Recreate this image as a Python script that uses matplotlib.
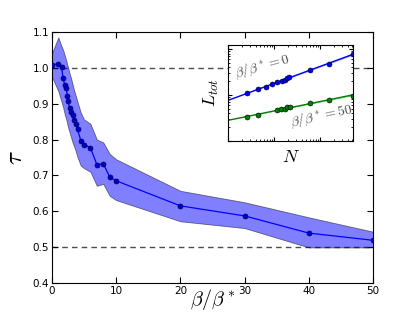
import numpy as np
import matplotlib
matplotlib.use("Agg")
import matplotlib.pyplot as plt

plt.rcParams["mathtext.fontset"] = "cm"

# main curve: tau vs beta/beta*
beta = [0, 1, 1.5, 1.75, 2, 2.25, 2.4, 2.5, 2.75, 3, 3.25, 3.5, 3.75, 4,
        4.5, 5, 6, 7, 8, 9, 10, 20, 30, 40, 50]
tau = [1.008, 1.011, 1.002, 0.971, 0.952, 0.943, 0.921, 0.906, 0.889, 0.878,
       0.869, 0.854, 0.844, 0.828, 0.797, 0.786, 0.777, 0.730, 0.732, 0.696,
       0.685, 0.615, 0.587, 0.539, 0.519]
tau_hi = [1.040, 1.085, 1.060, 1.050, 1.035, 1.020, 1.008, 1.003, 0.985, 0.970,
          0.952, 0.935, 0.920, 0.905, 0.875, 0.856, 0.844, 0.800, 0.792, 0.760,
          0.745, 0.657, 0.625, 0.583, 0.543]
tau_lo = [0.975, 0.935, 0.905, 0.890, 0.870, 0.855, 0.843, 0.835, 0.820, 0.805,
          0.790, 0.779, 0.765, 0.750, 0.727, 0.720, 0.710, 0.671, 0.676, 0.643,
          0.631, 0.572, 0.553, 0.499, 0.499]
yticks = [0.4, 0.5, 0.6, 0.7, 0.8, 0.9, 1.0, 1.1]
ytick_labels = ["0.4", "0.5", "0.6", "0.7", "0.8", "0.9", "1.0", "1.1"]

# inset: L_tot vs N
N_0 = [26, 45, 67, 90, 118, 145, 168, 193, 213, 600, 1550, 5100]
L_0 = [109, 133, 152, 174, 189, 203, 217, 232, 244, 353, 485, 764]
N_50 = [26, 45, 114, 140, 168, 193, 224, 600, 1550, 5100]
L_50 = [32.4, 37.1, 47.7, 48.5, 50.2, 54.6, 53.7, 65.7, 77.8, 96.7]

fig = plt.figure(figsize=(4.15, 3.13), dpi=100)
ax = fig.add_axes([0.125, 0.096, 0.774, 0.802])

ax.fill_between(beta, tau_lo, tau_hi, facecolor="#0000ff", alpha=0.5,
                edgecolor="k", lw=0.6, zorder=2)
ax.plot(beta, tau, "-", color="b", lw=0.9, zorder=3)
ax.plot(beta, tau, "o", ms=3.6, mfc="#0000cc", mec="#000060", mew=0.5,
        zorder=4)
ax.axhline(1.0, color="0.3", ls="--", lw=1, dashes=(4, 3), zorder=1)
ax.axhline(0.5, color="0.3", ls="--", lw=1, dashes=(4, 3), zorder=1)

ax.set_xlim(0, 50)
ax.set_ylim(0.4, 1.1)
ax.set_xticks([0, 10, 20, 30, 40, 50])
ax.set_yticks(yticks)
ax.set_yticklabels(ytick_labels)
ax.tick_params(direction="in", top=True, right=True, labelsize=7.5, length=4,
               pad=2)
ax.set_xlabel(r"$\beta/\beta^*$", fontsize=14.5, labelpad=-6)
ax.set_ylabel(r"$\tau$", fontsize=18, labelpad=4)

# inset
ins = fig.add_axes([0.550, 0.550, 0.301, 0.307])
ins.set_xscale("log")
ins.set_yscale("log")
xlim = (10, 5250)
ins.set_xlim(*xlim)
ins.set_ylim(10, 1245)

xx = np.logspace(np.log10(xlim[0]), np.log10(xlim[1]), 100)
for N, L, col in [(N_0, L_0, "b"), (N_50, L_50, "g")]:
    p = np.polyfit(np.log10(N), np.log10(L), 1)
    fit = 10 ** np.polyval(p, np.log10(xx))
    spread = 1 + 0.04 * (np.log10(xx) - 1) / 2.7
    ins.fill_between(xx, fit / spread, fit * spread, color=col, alpha=0.4,
                     lw=0)
    ins.plot(xx, fit, "-", color=col, lw=1)
    ins.plot(N, L, "o", ms=3.6, mfc=col, mec="k", mew=0.4, color=col)

ins.set_xticklabels([], minor=True)
ins.set_yticklabels([], minor=True)
ins.set_xticklabels([])
ins.set_yticklabels([])
ins.tick_params(which="both", direction="in", top=True, right=True)
ins.tick_params(which="major", length=3)
ins.tick_params(which="minor", length=1.5)
ins.set_xlabel(r"$N$", fontsize=13, labelpad=2)
ins.set_ylabel(r"$L_{tot}$", fontsize=13, labelpad=2)
ins.text(0.27, 0.78, r"$\beta/\beta^*=0$", transform=ins.transAxes,
         fontsize=10, color="0.3", rotation=15, ha="center", va="center")
ins.text(0.745, 0.26, r"$\beta/\beta^*=50$", transform=ins.transAxes,
         fontsize=10, color="0.3", rotation=12, ha="center", va="center")

fig.savefig("out.png", dpi=100, facecolor="white")
